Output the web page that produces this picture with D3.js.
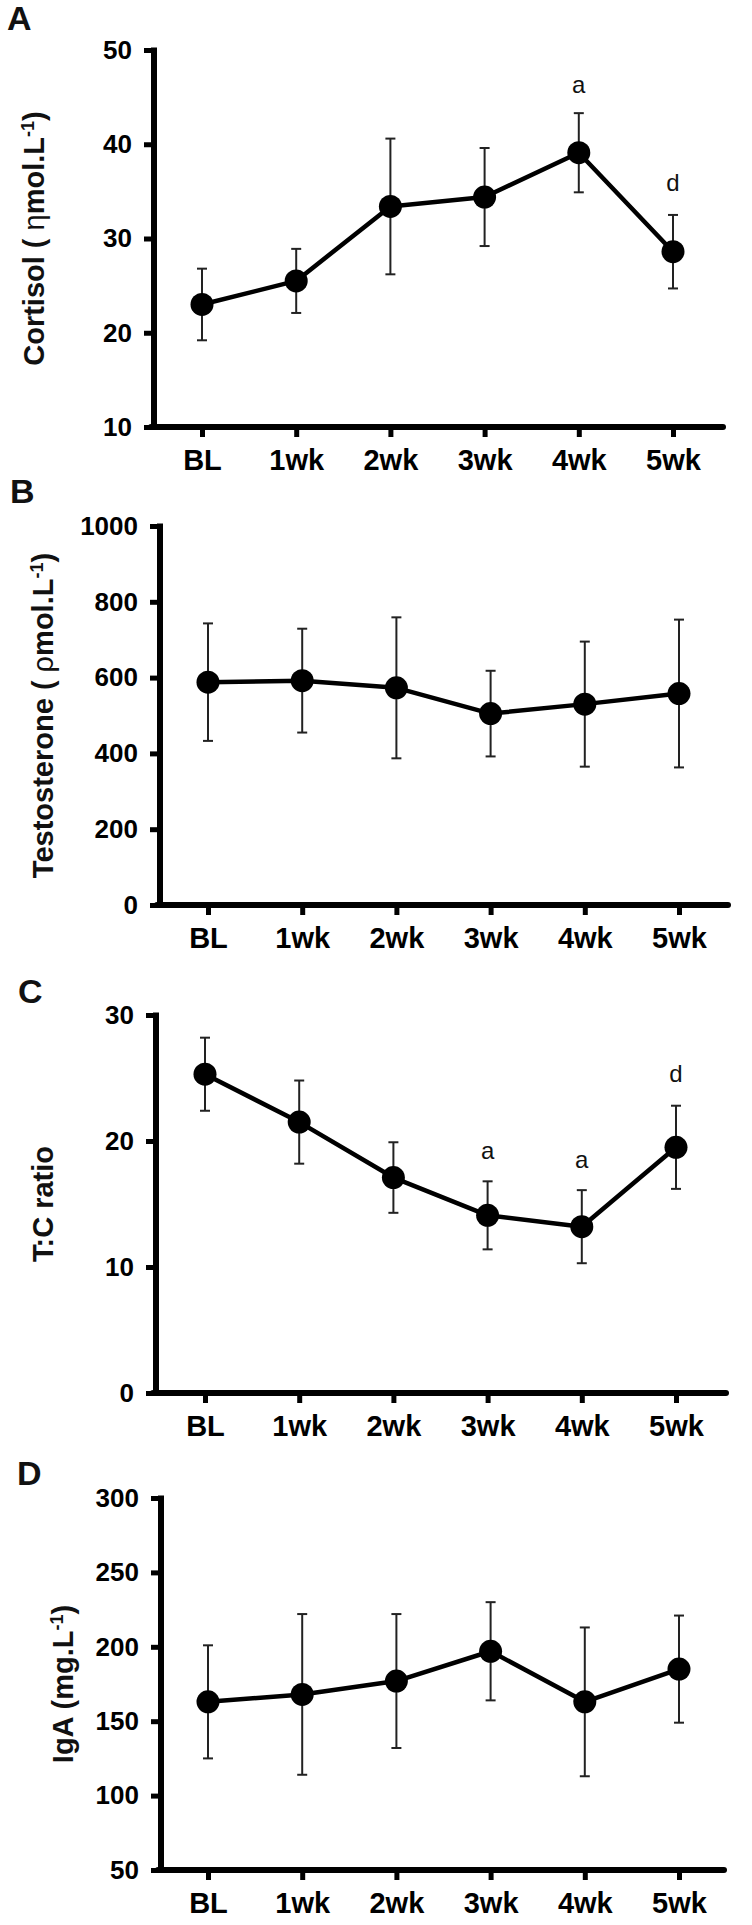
<!DOCTYPE html>
<html>
<head>
<meta charset="utf-8">
<script src="https://cdn.jsdelivr.net/npm/d3@7"></script>
<style>
  html, body { margin: 0; padding: 0; background: #ffffff; }
  svg { display: block; }
  text { font-family: "Liberation Sans", Arial, Helvetica, sans-serif; }
</style>
</head>
<body>
<svg id="chart" width="752" height="1925"></svg>
<script>
// ---------- data ----------
const categories = ["BL", "1wk", "2wk", "3wk", "4wk", "5wk"];

const cortisolMean = [23.0, 25.5, 33.4, 34.4, 39.1, 28.6];
const cortisolErr  = [3.8, 3.4, 7.2, 5.2, 4.2, 3.9];
const cortisolMarks = ["", "", "", "", "a", "d"];
const cortisolTicks = [10, 20, 30, 40, 50];

const testoMean = [588, 592, 573, 505, 530, 558];
const testoErr  = [155, 137, 186, 113, 165, 195];
const testoMarks = ["", "", "", "", "", ""];
const testoTicks = [0, 200, 400, 600, 800, 1000];

const ratioMean = [25.3, 21.5, 17.1, 14.1, 13.2, 19.5];
const ratioErr  = [2.9, 3.3, 2.8, 2.7, 2.9, 3.3];
const ratioMarks = ["", "", "", "a", "a", "d"];
const ratioTicks = [0, 10, 20, 30];

const igaMean = [163, 168, 177, 197, 163, 185];
const igaErr  = [38, 54, 45, 33, 50, 36];
const igaMarks = ["", "", "", "", "", ""];
const igaTicks = [50, 100, 150, 200, 250, 300];

// ---------- layout (positions/styles only) ----------
const panels = [
  { letter: "A", lx: 7, ly: 30, label: [["Cortisol ( ", "b"], ["η", "n"], ["mol.L", "b"], ["-1", "sup"], [")", "b"]],
    labelX: 44, axisX: 154, top: 50, bottom: 427, x0: 202, xEnd: 723,
    domain: [10, 50], ticks: cortisolTicks, mean: cortisolMean, err: cortisolErr, marks: cortisolMarks, markGap: [0, 0, 0, 0, 20, 24] },
  { letter: "B", lx: 10, ly: 503, label: [["Testosterone ( ", "b"], ["ρ", "n"], ["mol.L", "b"], ["-1", "sup"], [")", "b"]],
    labelX: 53, axisX: 160, top: 526, bottom: 905, x0: 208, xEnd: 728,
    domain: [0, 1000], ticks: testoTicks, mean: testoMean, err: testoErr, marks: testoMarks, markGap: [0,0,0,0,0,0] },
  { letter: "C", lx: 18, ly: 1003, label: [["T:C ratio", "b"]],
    labelX: 53, axisX: 156, top: 1015, bottom: 1393, x0: 205, xEnd: 726,
    domain: [0, 30], ticks: ratioTicks, mean: ratioMean, err: ratioErr, marks: ratioMarks, markGap: [0, 0, 0, 22, 22, 24] },
  { letter: "D", lx: 17, ly: 1485, label: [["IgA (mg.L", "b"], ["-1", "sup"], [")", "b"]],
    labelX: 73, axisX: 161, top: 1498, bottom: 1870, x0: 208, xEnd: 724,
    domain: [50, 300], ticks: igaTicks, mean: igaMean, err: igaErr, marks: igaMarks, markGap: [0,0,0,0,0,0] }
];

const svg = d3.select("#chart");
const step = 94.2;

panels.forEach(p => {
  const g = svg.append("g");
  const x = d3.scalePoint().domain(categories).range([p.x0, p.x0 + step * (categories.length - 1)]);
  const y = d3.scaleLinear().domain(p.domain).range([p.bottom, p.top]);

  // panel letter
  g.append("text").attr("x", p.lx).attr("y", p.ly)
    .attr("font-size", 34).attr("font-weight", "bold").attr("fill", "#111").text(p.letter);

  // y axis
  const yAxis = d3.axisLeft(y).tickValues(p.ticks).tickSize(10).tickSizeOuter(0).tickPadding(12).tickFormat(d3.format("d"));
  const ya = g.append("g").attr("transform", `translate(${p.axisX},0)`).call(yAxis);
  ya.select(".domain").remove();
  ya.selectAll(".tick line").attr("stroke", "#000").attr("stroke-width", 5);
  ya.selectAll(".tick text").attr("font-size", 26).attr("font-weight", "bold").attr("fill", "#000")
    .style("font-family", "'Liberation Sans', Arial, sans-serif");
  g.append("line").attr("x1", p.axisX).attr("x2", p.axisX).attr("y1", p.top - 2.5).attr("y2", p.bottom + 3)
    .attr("stroke", "#000").attr("stroke-width", 6);

  // x axis
  const xAxis = d3.axisBottom(x).tickSize(10).tickSizeOuter(0).tickPadding(12);
  const xa = g.append("g").attr("transform", `translate(0,${p.bottom})`).call(xAxis);
  xa.select(".domain").remove();
  xa.selectAll(".tick line").attr("stroke", "#000").attr("stroke-width", 5);
  xa.selectAll(".tick text").attr("font-size", 29).attr("font-weight", "bold").attr("fill", "#000")
    .style("font-family", "'Liberation Sans', Arial, sans-serif");
  g.append("line").attr("x1", p.axisX - 3).attr("x2", p.xEnd).attr("y1", p.bottom).attr("y2", p.bottom)
    .attr("stroke", "#000").attr("stroke-width", 6).attr("stroke-linecap", "round");

  // y axis label
  const lab = g.append("text")
    .attr("transform", `translate(${p.labelX},${(p.top + p.bottom) / 2}) rotate(-90)`)
    .attr("text-anchor", "middle").attr("font-size", 29).attr("fill", "#111");
  p.label.forEach(([t, kind]) => {
    const ts = lab.append("tspan").text(t);
    if (kind === "b") ts.attr("font-weight", "bold");
    if (kind === "n") ts.attr("font-weight", "normal");
    if (kind === "sup") ts.attr("font-weight", "bold").attr("font-size", 18).attr("baseline-shift", "super");
  });

  const data = categories.map((c, i) => ({ c, m: p.mean[i], e: p.err[i], mark: p.marks[i], gap: p.markGap[i] }));

  // error bars
  const eb = g.append("g").attr("stroke", "#222").attr("stroke-width", 2);
  data.forEach(d => {
    const cx = x(d.c);
    eb.append("line").attr("x1", cx).attr("x2", cx).attr("y1", y(d.m - d.e)).attr("y2", y(d.m + d.e));
    eb.append("line").attr("x1", cx - 5).attr("x2", cx + 5).attr("y1", y(d.m + d.e)).attr("y2", y(d.m + d.e));
    eb.append("line").attr("x1", cx - 5).attr("x2", cx + 5).attr("y1", y(d.m - d.e)).attr("y2", y(d.m - d.e));
  });

  // line
  g.append("path").datum(data)
    .attr("fill", "none").attr("stroke", "#000").attr("stroke-width", 4.5).attr("stroke-linejoin", "round")
    .attr("d", d3.line().x(d => x(d.c)).y(d => y(d.m)));

  // markers
  g.selectAll("circle.pt").data(data).enter().append("circle")
    .attr("cx", d => x(d.c)).attr("cy", d => y(d.m)).attr("r", 11.5).attr("fill", "#000");

  // significance letters
  g.selectAll("text.sig").data(data.filter(d => d.mark)).enter().append("text")
    .attr("x", d => x(d.c)).attr("y", d => y(d.m + d.e) - d.gap)
    .attr("text-anchor", "middle").attr("font-size", 24).attr("fill", "#111").text(d => d.mark);
});
</script>
</body>
</html>
